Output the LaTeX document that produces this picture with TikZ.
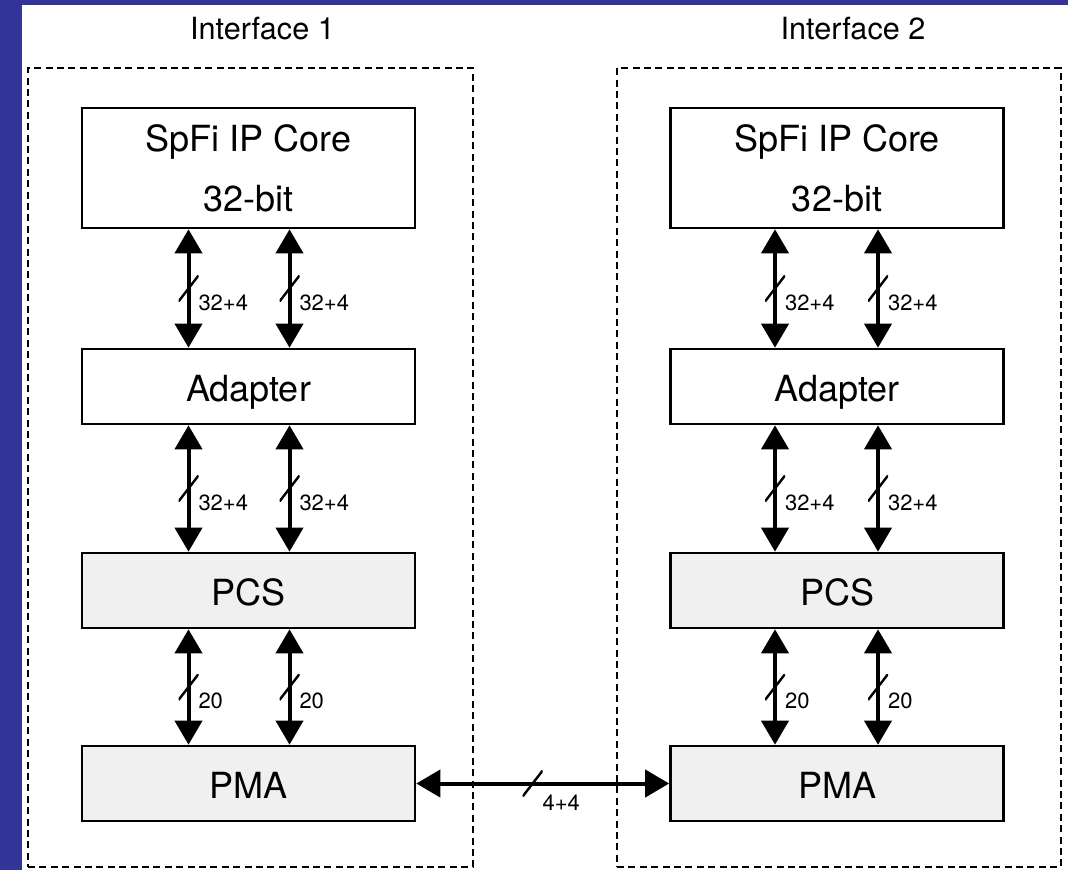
\documentclass[tikz,border=0pt]{standalone}
\usepackage{fontspec}
\setmainfont{TeX Gyre Heros}
\usetikzlibrary{calc,arrows.meta}
\definecolor{frameblue}{RGB}{51,51,153}
\definecolor{layergray}{RGB}{240,240,240}
\tikzset{
  boxtext/.style={draw, line width=1.3pt, minimum width=166.5pt, inner sep=0pt, font=\fontsize{18}{22}\selectfont},
  block/.style={boxtext, minimum height=37.5pt, text height=19pt, text depth=3.6pt},
  layer/.style={block, fill=layergray},
  group/.style={draw, dash pattern=on 3.5pt off 2.2pt, line width=1.3pt, minimum height=399.5pt},
  bus/.style={line width=2pt, {Triangle[width=13.5pt,length=12pt]}-{Triangle[width=13.5pt,length=12pt]}},
  busmark/.style={inner sep=0pt, minimum width=10pt, minimum height=13pt,
    path picture={\draw[-, line width=1.2pt] (path picture bounding box.south west) -- (path picture bounding box.north east);}},
  buswidth/.style={anchor=west, inner sep=0pt, xshift=4pt, yshift=-7pt, font=\fontsize{11}{13}\selectfont},
  ifname/.style={font=\fontsize{15.3}{18}\selectfont}
}
\begin{document}
\begin{tikzpicture}[x=0.5pt, y=0.5pt]
  \useasboundingbox (0,0) rectangle (1068,-870);
  \fill[frameblue] (0,0) rectangle (1068,-870);
  \fill[white] (22,-5) rectangle (1068,-870);

  \node[group, minimum width=222.5pt] at (250.5,-467.5) (if1) {};
  \node[ifname] at ($(if1.north) + (12,38)$) (t1) {Interface 1};
  \node[boxtext, minimum height=60pt, align=center] at (248.5,-168) (core1) {SpFi IP Core\\[8pt]32-bit};
  \node[block] at ($(core1) + (0,-218.5)$) (adap1) {Adapter};
  \node[layer] at ($(core1) + (0,-422.5)$) (pcs1) {PCS};
  \node[layer] at ($(core1) + (0,-615.5)$) (pma1) {PMA};

  \node[group, minimum width=222pt] at (839,-467.5) (if2) {};
  \node[ifname] at ($(if2.north) + (14,38)$) (t2) {Interface 2};
  \node[boxtext, minimum height=60pt, align=center] at (837,-168) (core2) {SpFi IP Core\\[8pt]32-bit};
  \node[block] at ($(core2) + (0,-218.5)$) (adap2) {Adapter};
  \node[layer] at ($(core2) + (0,-422.5)$) (pcs2) {PCS};
  \node[layer] at ($(core2) + (0,-615.5)$) (pma2) {PMA};

  \draw[bus] ($(core1.south) + (-60,0)$) -- node[busmark]{} node[buswidth]{32+4} ($(adap1.north) + (-60,0)$);
  \draw[bus] ($(core1.south) + (41,0)$) -- node[busmark]{} node[buswidth]{32+4} ($(adap1.north) + (41,0)$);
  \draw[bus] ($(adap1.south) + (-60,0)$) -- node[busmark]{} node[buswidth]{32+4} ($(pcs1.north) + (-60,0)$);
  \draw[bus] ($(adap1.south) + (41,0)$) -- node[busmark]{} node[buswidth]{32+4} ($(pcs1.north) + (41,0)$);
  \draw[bus] ($(pcs1.south) + (-60,0)$) -- node[busmark]{} node[buswidth]{20} ($(pma1.north) + (-60,0)$);
  \draw[bus] ($(pcs1.south) + (41,0)$) -- node[busmark]{} node[buswidth]{20} ($(pma1.north) + (41,0)$);

  \draw[bus] ($(core2.south) + (-62,0)$) -- node[busmark]{} node[buswidth]{32+4} ($(adap2.north) + (-62,0)$);
  \draw[bus] ($(core2.south) + (41,0)$) -- node[busmark]{} node[buswidth]{32+4} ($(adap2.north) + (41,0)$);
  \draw[bus] ($(adap2.south) + (-62,0)$) -- node[busmark]{} node[buswidth]{32+4} ($(pcs2.north) + (-62,0)$);
  \draw[bus] ($(adap2.south) + (41,0)$) -- node[busmark]{} node[buswidth]{32+4} ($(pcs2.north) + (41,0)$);
  \draw[bus] ($(pcs2.south) + (-62,0)$) -- node[busmark]{} node[buswidth]{20} ($(pma2.north) + (-62,0)$);
  \draw[bus] ($(pcs2.south) + (41,0)$) -- node[busmark]{} node[buswidth]{20} ($(pma2.north) + (41,0)$);

  \draw[bus] (pma1.east) -- node[busmark, pos=0.46]{} node[buswidth, pos=0.46, yshift=-2.5pt]{4+4} (pma2.west);
\end{tikzpicture}
\end{document}
